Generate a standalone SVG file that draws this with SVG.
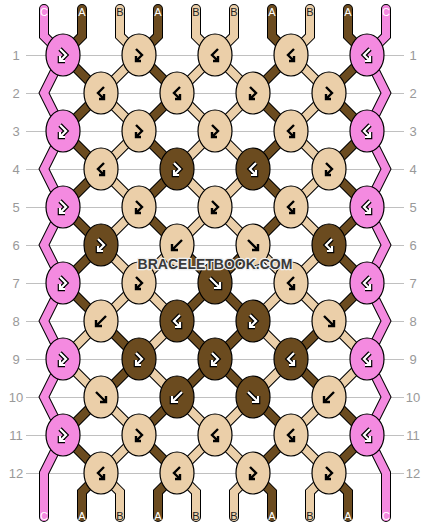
<svg xmlns="http://www.w3.org/2000/svg" width="430" height="528" viewBox="0 0 430 528">
<style>
.grid{stroke:#c0c0c0;stroke-width:1;shape-rendering:crispEdges}
.rn{font-family:"Liberation Sans",Arial,sans-serif;font-size:13px;fill:#999;text-anchor:middle}
.o{fill:none;stroke:#000;stroke-width:10;stroke-linejoin:miter;stroke-linecap:round}
.sp{fill:none;stroke:#f48ae0;stroke-width:8;stroke-linejoin:miter;stroke-linecap:round}
.sa{fill:none;stroke:#6b4b1f;stroke-width:8;stroke-linejoin:miter;stroke-linecap:round}
.sb{fill:none;stroke:#ebcfa9;stroke-width:8;stroke-linejoin:miter;stroke-linecap:round}
.kp{fill:#f48ae0;stroke:#000;stroke-width:1.2}
.kb{fill:#ebcfa9;stroke:#000;stroke-width:1.2}
.kd{fill:#6b4b1f;stroke:#000;stroke-width:1.2}
.gk{fill:none;stroke:#000;stroke-width:2.4}
.go{fill:none;stroke:#000;stroke-width:4.6}
.gw{fill:none;stroke:#fff;stroke-width:2.2}
.lt{font-family:"Liberation Sans",Arial,sans-serif;font-size:11px;text-anchor:middle}
.lw{fill:#fff}
.lk{fill:#222}
.wm{font-family:"Liberation Sans",Arial,sans-serif;font-weight:bold;font-size:14px;text-anchor:middle;fill:#3a3a3a;stroke:#f0f0f0;stroke-width:2.5;paint-order:stroke;stroke-linejoin:round}
</style>
<defs>
<path id="gR" d="M-3,-6 L3,0 L-3,6 M-3,1 V6 H2"/>
<path id="gL" d="M3,-6 L-3,0 L3,6 M3,1 V6 H-2"/>
<path id="gF" d="M-5,-5 L5,5 M5,-1 V5 H-1"/>
<path id="gB" d="M5,-5 L-5,5 M-5,-1 V5 H1"/>
<path id="p0" d="M44 9 V36 L63 55 L44 93 L63 131 L44 169 L63 207 L44 245 L63 283 L44 321 L63 359 L44 397 L63 435 L44 473 V517"/>
<path id="p9" d="M386 9 V36 L367 55 L386 93 L367 131 L386 169 L367 207 L386 245 L367 283 L386 321 L367 359 L386 397 L367 435 L386 473 V517"/>
<path id="p1" d="M82 9 V36 L63 55 L101 93 L63 131 L101 169 L63 207 L101 245 L63 283 L101 321 L139 359 L101 397 L63 435 L101 473 L82 492 V517"/>
<path id="p2" d="M120 9 V36 L139 55 L101 93 L139 131 L101 169 L139 207 L101 245 L139 283 L101 321 L63 359 L101 397 L139 435 L101 473 L120 492 V517"/>
<path id="p3" d="M158 9 V36 L139 55 L177 93 L139 131 L177 169 L139 207 L177 245 L215 283 L253 321 L215 359 L253 397 L291 435 L253 473 L272 492 V517"/>
<path id="p4" d="M196 9 V36 L215 55 L177 93 L215 131 L177 169 L215 207 L177 245 L139 283 L177 321 L139 359 L177 397 L215 435 L177 473 L196 492 V517"/>
<path id="p5" d="M234 9 V36 L215 55 L253 93 L215 131 L253 169 L215 207 L253 245 L291 283 L253 321 L291 359 L253 397 L215 435 L253 473 L234 492 V517"/>
<path id="p6" d="M272 9 V36 L291 55 L253 93 L291 131 L253 169 L291 207 L253 245 L215 283 L177 321 L215 359 L177 397 L139 435 L177 473 L158 492 V517"/>
<path id="p7" d="M310 9 V36 L291 55 L329 93 L291 131 L329 169 L291 207 L329 245 L291 283 L329 321 L367 359 L329 397 L291 435 L329 473 L310 492 V517"/>
<path id="p8" d="M348 9 V36 L367 55 L329 93 L367 131 L329 169 L367 207 L329 245 L367 283 L329 321 L291 359 L329 397 L367 435 L329 473 L348 492 V517"/>
</defs>
<g id="grid">
<line class="grid" x1="26" y1="55" x2="404" y2="55"/>
<line class="grid" x1="26" y1="93" x2="404" y2="93"/>
<line class="grid" x1="26" y1="131" x2="404" y2="131"/>
<line class="grid" x1="26" y1="169" x2="404" y2="169"/>
<line class="grid" x1="26" y1="207" x2="404" y2="207"/>
<line class="grid" x1="26" y1="245" x2="404" y2="245"/>
<line class="grid" x1="26" y1="283" x2="404" y2="283"/>
<line class="grid" x1="26" y1="321" x2="404" y2="321"/>
<line class="grid" x1="26" y1="359" x2="404" y2="359"/>
<line class="grid" x1="26" y1="397" x2="404" y2="397"/>
<line class="grid" x1="26" y1="435" x2="404" y2="435"/>
<line class="grid" x1="26" y1="473" x2="404" y2="473"/>
</g>
<g id="row-numbers">
<text class="rn" x="16" y="60">1</text><text class="rn" x="413" y="60">1</text>
<text class="rn" x="16" y="98">2</text><text class="rn" x="413" y="98">2</text>
<text class="rn" x="16" y="136">3</text><text class="rn" x="413" y="136">3</text>
<text class="rn" x="16" y="174">4</text><text class="rn" x="413" y="174">4</text>
<text class="rn" x="16" y="212">5</text><text class="rn" x="413" y="212">5</text>
<text class="rn" x="16" y="250">6</text><text class="rn" x="413" y="250">6</text>
<text class="rn" x="16" y="288">7</text><text class="rn" x="413" y="288">7</text>
<text class="rn" x="16" y="326">8</text><text class="rn" x="413" y="326">8</text>
<text class="rn" x="16" y="364">9</text><text class="rn" x="413" y="364">9</text>
<text class="rn" x="16" y="402">10</text><text class="rn" x="413" y="402">10</text>
<text class="rn" x="16" y="440">11</text><text class="rn" x="413" y="440">11</text>
<text class="rn" x="16" y="478">12</text><text class="rn" x="413" y="478">12</text>
</g>
<g id="connectors">
<use href="#p0" class="o"/><use href="#p0" class="sp"/>
<use href="#p9" class="o"/><use href="#p9" class="sp"/>
<use href="#p1" class="o"/><use href="#p1" class="sa"/>
<use href="#p2" class="o"/><use href="#p2" class="sb"/>
<use href="#p3" class="o"/><use href="#p3" class="sa"/>
<use href="#p4" class="o"/><use href="#p4" class="sb"/>
<use href="#p5" class="o"/><use href="#p5" class="sb"/>
<use href="#p6" class="o"/><use href="#p6" class="sa"/>
<use href="#p7" class="o"/><use href="#p7" class="sb"/>
<use href="#p8" class="o"/><use href="#p8" class="sa"/>
</g>
<g id="strand-labels">
<text class="lt lw" x="44" y="16">C</text><text class="lt lw" x="82" y="16">A</text><text class="lt lk" x="120" y="16">B</text><text class="lt lw" x="158" y="16">A</text><text class="lt lk" x="196" y="16">B</text><text class="lt lk" x="234" y="16">B</text><text class="lt lw" x="272" y="16">A</text><text class="lt lk" x="310" y="16">B</text><text class="lt lw" x="348" y="16">A</text><text class="lt lw" x="386" y="16">C</text>
<text class="lt lw" x="44" y="520">C</text><text class="lt lw" x="82" y="520">A</text><text class="lt lk" x="120" y="520">B</text><text class="lt lw" x="158" y="520">A</text><text class="lt lk" x="196" y="520">B</text><text class="lt lk" x="234" y="520">B</text><text class="lt lw" x="272" y="520">A</text><text class="lt lk" x="310" y="520">B</text><text class="lt lw" x="348" y="520">A</text><text class="lt lw" x="386" y="520">C</text>
</g>
<g id="knots">
<g id="k1-1"><ellipse class="kp" cx="63" cy="55" rx="17" ry="21"/><use href="#gR" x="63" y="55" class="go"/><use href="#gR" x="63" y="55" class="gw"/></g>
<g id="k1-2"><ellipse class="kb" cx="139" cy="55" rx="17" ry="21"/><use href="#gR" x="139" y="55" class="gk"/></g>
<g id="k1-3"><ellipse class="kb" cx="215" cy="55" rx="17" ry="21"/><use href="#gL" x="215" y="55" class="gk"/></g>
<g id="k1-4"><ellipse class="kb" cx="291" cy="55" rx="17" ry="21"/><use href="#gL" x="291" y="55" class="gk"/></g>
<g id="k1-5"><ellipse class="kp" cx="367" cy="55" rx="17" ry="21"/><use href="#gL" x="367" y="55" class="go"/><use href="#gL" x="367" y="55" class="gw"/></g>

<g id="k2-1"><ellipse class="kb" cx="101" cy="93" rx="17" ry="21"/><use href="#gL" x="101" y="93" class="gk"/></g>
<g id="k2-2"><ellipse class="kb" cx="177" cy="93" rx="17" ry="21"/><use href="#gL" x="177" y="93" class="gk"/></g>
<g id="k2-3"><ellipse class="kb" cx="253" cy="93" rx="17" ry="21"/><use href="#gR" x="253" y="93" class="gk"/></g>
<g id="k2-4"><ellipse class="kb" cx="329" cy="93" rx="17" ry="21"/><use href="#gR" x="329" y="93" class="gk"/></g>

<g id="k3-1"><ellipse class="kp" cx="63" cy="131" rx="17" ry="21"/><use href="#gR" x="63" y="131" class="go"/><use href="#gR" x="63" y="131" class="gw"/></g>
<g id="k3-2"><ellipse class="kb" cx="139" cy="131" rx="17" ry="21"/><use href="#gR" x="139" y="131" class="gk"/></g>
<g id="k3-3"><ellipse class="kb" cx="215" cy="131" rx="17" ry="21"/><use href="#gR" x="215" y="131" class="gk"/></g>
<g id="k3-4"><ellipse class="kb" cx="291" cy="131" rx="17" ry="21"/><use href="#gL" x="291" y="131" class="gk"/></g>
<g id="k3-5"><ellipse class="kp" cx="367" cy="131" rx="17" ry="21"/><use href="#gL" x="367" y="131" class="go"/><use href="#gL" x="367" y="131" class="gw"/></g>

<g id="k4-1"><ellipse class="kb" cx="101" cy="169" rx="17" ry="21"/><use href="#gL" x="101" y="169" class="gk"/></g>
<g id="k4-2"><ellipse class="kd" cx="177" cy="169" rx="17" ry="21"/><use href="#gR" x="177" y="169" class="go"/><use href="#gR" x="177" y="169" class="gw"/></g>
<g id="k4-3"><ellipse class="kd" cx="253" cy="169" rx="17" ry="21"/><use href="#gL" x="253" y="169" class="go"/><use href="#gL" x="253" y="169" class="gw"/></g>
<g id="k4-4"><ellipse class="kb" cx="329" cy="169" rx="17" ry="21"/><use href="#gR" x="329" y="169" class="gk"/></g>

<g id="k5-1"><ellipse class="kp" cx="63" cy="207" rx="17" ry="21"/><use href="#gR" x="63" y="207" class="go"/><use href="#gR" x="63" y="207" class="gw"/></g>
<g id="k5-2"><ellipse class="kb" cx="139" cy="207" rx="17" ry="21"/><use href="#gR" x="139" y="207" class="gk"/></g>
<g id="k5-3"><ellipse class="kb" cx="215" cy="207" rx="17" ry="21"/><use href="#gR" x="215" y="207" class="gk"/></g>
<g id="k5-4"><ellipse class="kb" cx="291" cy="207" rx="17" ry="21"/><use href="#gL" x="291" y="207" class="gk"/></g>
<g id="k5-5"><ellipse class="kp" cx="367" cy="207" rx="17" ry="21"/><use href="#gL" x="367" y="207" class="go"/><use href="#gL" x="367" y="207" class="gw"/></g>

<g id="k6-1"><ellipse class="kd" cx="101" cy="245" rx="17" ry="21"/><use href="#gR" x="101" y="245" class="go"/><use href="#gR" x="101" y="245" class="gw"/></g>
<g id="k6-2"><ellipse class="kb" cx="177" cy="245" rx="17" ry="21"/><use href="#gB" x="177" y="245" class="gk"/></g>
<g id="k6-3"><ellipse class="kb" cx="253" cy="245" rx="17" ry="21"/><use href="#gF" x="253" y="245" class="gk"/></g>
<g id="k6-4"><ellipse class="kd" cx="329" cy="245" rx="17" ry="21"/><use href="#gL" x="329" y="245" class="go"/><use href="#gL" x="329" y="245" class="gw"/></g>

<g id="k7-1"><ellipse class="kp" cx="63" cy="283" rx="17" ry="21"/><use href="#gR" x="63" y="283" class="go"/><use href="#gR" x="63" y="283" class="gw"/></g>
<g id="k7-2"><ellipse class="kb" cx="139" cy="283" rx="17" ry="21"/><use href="#gR" x="139" y="283" class="gk"/></g>
<g id="k7-3"><ellipse class="kd" cx="215" cy="283" rx="17" ry="21"/><use href="#gF" x="215" y="283" class="go"/><use href="#gF" x="215" y="283" class="gw"/></g>
<g id="k7-4"><ellipse class="kb" cx="291" cy="283" rx="17" ry="21"/><use href="#gL" x="291" y="283" class="gk"/></g>
<g id="k7-5"><ellipse class="kp" cx="367" cy="283" rx="17" ry="21"/><use href="#gL" x="367" y="283" class="go"/><use href="#gL" x="367" y="283" class="gw"/></g>

<g id="k8-1"><ellipse class="kb" cx="101" cy="321" rx="17" ry="21"/><use href="#gB" x="101" y="321" class="gk"/></g>
<g id="k8-2"><ellipse class="kd" cx="177" cy="321" rx="17" ry="21"/><use href="#gL" x="177" y="321" class="go"/><use href="#gL" x="177" y="321" class="gw"/></g>
<g id="k8-3"><ellipse class="kd" cx="253" cy="321" rx="17" ry="21"/><use href="#gR" x="253" y="321" class="go"/><use href="#gR" x="253" y="321" class="gw"/></g>
<g id="k8-4"><ellipse class="kb" cx="329" cy="321" rx="17" ry="21"/><use href="#gF" x="329" y="321" class="gk"/></g>

<g id="k9-1"><ellipse class="kp" cx="63" cy="359" rx="17" ry="21"/><use href="#gR" x="63" y="359" class="go"/><use href="#gR" x="63" y="359" class="gw"/></g>
<g id="k9-2"><ellipse class="kd" cx="139" cy="359" rx="17" ry="21"/><use href="#gR" x="139" y="359" class="go"/><use href="#gR" x="139" y="359" class="gw"/></g>
<g id="k9-3"><ellipse class="kd" cx="215" cy="359" rx="17" ry="21"/><use href="#gR" x="215" y="359" class="go"/><use href="#gR" x="215" y="359" class="gw"/></g>
<g id="k9-4"><ellipse class="kd" cx="291" cy="359" rx="17" ry="21"/><use href="#gL" x="291" y="359" class="go"/><use href="#gL" x="291" y="359" class="gw"/></g>
<g id="k9-5"><ellipse class="kp" cx="367" cy="359" rx="17" ry="21"/><use href="#gL" x="367" y="359" class="go"/><use href="#gL" x="367" y="359" class="gw"/></g>

<g id="k10-1"><ellipse class="kb" cx="101" cy="397" rx="17" ry="21"/><use href="#gF" x="101" y="397" class="gk"/></g>
<g id="k10-2"><ellipse class="kd" cx="177" cy="397" rx="17" ry="21"/><use href="#gB" x="177" y="397" class="go"/><use href="#gB" x="177" y="397" class="gw"/></g>
<g id="k10-3"><ellipse class="kd" cx="253" cy="397" rx="17" ry="21"/><use href="#gF" x="253" y="397" class="go"/><use href="#gF" x="253" y="397" class="gw"/></g>
<g id="k10-4"><ellipse class="kb" cx="329" cy="397" rx="17" ry="21"/><use href="#gB" x="329" y="397" class="gk"/></g>

<g id="k11-1"><ellipse class="kp" cx="63" cy="435" rx="17" ry="21"/><use href="#gR" x="63" y="435" class="go"/><use href="#gR" x="63" y="435" class="gw"/></g>
<g id="k11-2"><ellipse class="kb" cx="139" cy="435" rx="17" ry="21"/><use href="#gR" x="139" y="435" class="gk"/></g>
<g id="k11-3"><ellipse class="kb" cx="215" cy="435" rx="17" ry="21"/><use href="#gL" x="215" y="435" class="gk"/></g>
<g id="k11-4"><ellipse class="kb" cx="291" cy="435" rx="17" ry="21"/><use href="#gL" x="291" y="435" class="gk"/></g>
<g id="k11-5"><ellipse class="kp" cx="367" cy="435" rx="17" ry="21"/><use href="#gL" x="367" y="435" class="go"/><use href="#gL" x="367" y="435" class="gw"/></g>

<g id="k12-1"><ellipse class="kb" cx="101" cy="473" rx="17" ry="21"/><use href="#gL" x="101" y="473" class="gk"/></g>
<g id="k12-2"><ellipse class="kb" cx="177" cy="473" rx="17" ry="21"/><use href="#gL" x="177" y="473" class="gk"/></g>
<g id="k12-3"><ellipse class="kb" cx="253" cy="473" rx="17" ry="21"/><use href="#gR" x="253" y="473" class="gk"/></g>
<g id="k12-4"><ellipse class="kb" cx="329" cy="473" rx="17" ry="21"/><use href="#gR" x="329" y="473" class="gk"/></g>
</g>
<text class="wm" x="215" y="269">BRACELETBOOK.COM</text>
</svg>
